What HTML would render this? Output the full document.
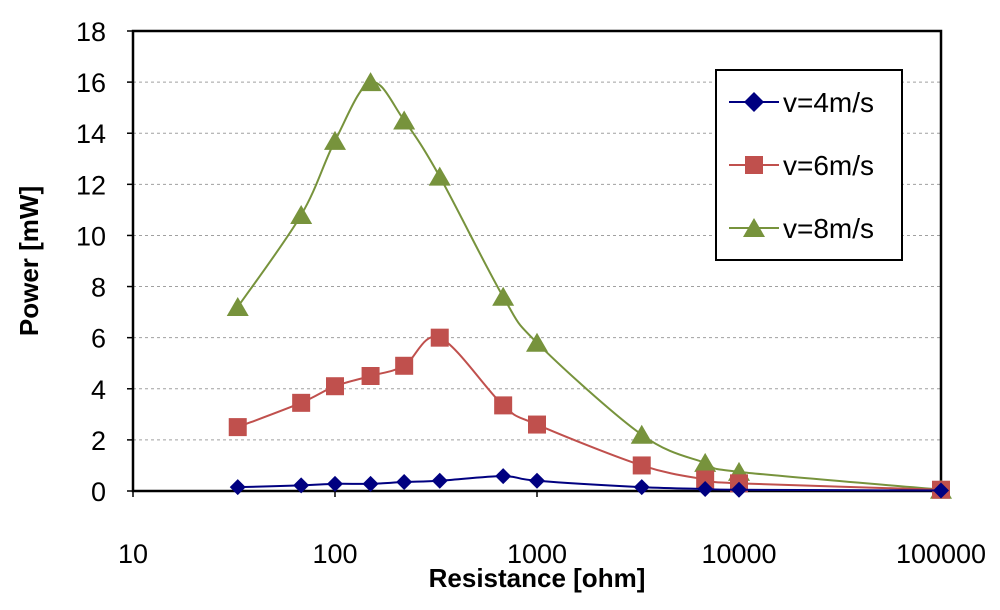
<!DOCTYPE html>
<html><head><meta charset="utf-8"><style>
body{margin:0;background:#fff}
svg text{font-family:"Liberation Sans",sans-serif}
</style></head><body>
<svg width="1000" height="605" xmlns="http://www.w3.org/2000/svg">
<g id="grid"></g>
<g id="axes"></g>
<g id="series"></g>
<text x="537" y="587" text-anchor="middle" font-size="26" font-weight="bold">Resistance [ohm]</text>
<text transform="translate(38,261) rotate(-90)" text-anchor="middle" font-size="26" font-weight="bold">Power [mW]</text>
<g>
<rect x="716" y="70" width="186" height="190" fill="#fff" stroke="#000" stroke-width="2"/>
<g>
<line x1="729" y1="102" x2="779" y2="102" stroke="#000080" stroke-width="2"/>
<polygon points="754,92 764,102 754,112 744,102" fill="#000080"/>
<text x="783" y="112" font-size="28">v=4m/s</text></g>
<g>
<line x1="729" y1="165" x2="779" y2="165" stroke="#c0504d" stroke-width="2"/>
<rect x="745" y="156" width="18" height="18" fill="#c0504d"/>
<text x="783" y="175" font-size="28">v=6m/s</text></g>
<g>
<line x1="729" y1="228" x2="779" y2="228" stroke="#77933c" stroke-width="2"/>
<polygon points="754,218 765,237 743,237" fill="#77933c"/>
<text x="783" y="238" font-size="28">v=8m/s</text></g>
</g>
</svg>
<script>
const resistance=[33,68,100,150,220,330,680,1000,3300,6800,10000,100000];
const v4=[0.15,0.22,0.28,0.28,0.35,0.4,0.58,0.4,0.15,0.08,0.05,0.02];
const v6=[2.5,3.45,4.1,4.5,4.9,6.0,3.35,2.6,1.0,0.45,0.3,0.05];
const v8=[7.2,10.8,13.7,16.0,14.5,12.3,7.6,5.8,2.2,1.1,0.75,0.05];
const yTicks=[0,2,4,6,8,10,12,14,16,18];
const xTicks=[10,100,1000,10000,100000];
const L=133,R=941,T=31,B=491;
const xs=v=>L+(Math.log10(v)-1)/4*(R-L);
const ys=v=>B-v/18*(B-T);
const NS="http://www.w3.org/2000/svg";
function mk(p,t,a){const e=document.createElementNS(NS,t);for(const k in a)e.setAttribute(k,a[k]);p.appendChild(e);return e;}
const grid=document.getElementById('grid'),axes=document.getElementById('axes'),ser=document.getElementById('series');
yTicks.forEach(t=>{
 if(t>0&&t<18){const g=mk(grid,'line',{x1:L,x2:R,y1:ys(t),y2:ys(t),stroke:'#a0a0a0','stroke-dasharray':'3,3'});
 
 }
 const tx=mk(axes,'text',{x:L-27,y:ys(t)+10,'text-anchor':'end','font-size':'27'});tx.textContent=t;
 
 
 mk(axes,'line',{x1:L-6,x2:L,y1:ys(t),y2:ys(t),stroke:'#000','stroke-width':1.5});
});
xTicks.forEach(t=>{
 const tx=mk(axes,'text',{x:xs(t),y:B+72,'text-anchor':'middle','font-size':'27'});tx.textContent=t;
 
 
 mk(axes,'line',{x1:xs(t),x2:xs(t),y1:B,y2:B+6,stroke:'#000','stroke-width':1.5});
});
const fr=mk(axes,'rect',{x:L,y:T,width:R-L,height:B-T,fill:'none',stroke:'#000','stroke-width':2.5});


function path(pts){let d=`M${pts[0][0]},${pts[0][1]}`;
 for(let i=0;i<pts.length-1;i++){const p0=pts[i-1]||pts[i],p1=pts[i],p2=pts[i+1],p3=pts[i+2]||p2;
  const c1=[p1[0]+(p2[0]-p0[0])/6,p1[1]+(p2[1]-p0[1])/6],c2=[p2[0]-(p3[0]-p1[0])/6,p2[1]-(p3[1]-p1[1])/6];
  d+=`C${c1[0]},${c1[1]} ${c2[0]},${c2[1]} ${p2[0]},${p2[1]}`;}return d;}
function draw(vals,col,shape,name){
 const pts=resistance.map((r,i)=>[xs(r),ys(vals[i])]);
 const g=mk(ser,'g',{});
 
 
 mk(g,'path',{d:path(pts),fill:'none',stroke:col,'stroke-width':2});
 pts.forEach(([x,y])=>{let m;
  if(shape==='d')m=mk(g,'polygon',{points:`${x},${y-8} ${x+8},${y} ${x},${y+8} ${x-8},${y}`,fill:col});
  else if(shape==='s')m=mk(g,'rect',{x:x-9,y:y-9,width:18,height:18,fill:col});
  else m=mk(g,'polygon',{points:`${x},${y-10} ${x+11},${y+9} ${x-11},${y+9}`,fill:col});
  
  });
}
draw(v8,'#77933c','t','series-v8');
draw(v6,'#c0504d','s','series-v6');
draw(v4,'#000080','d','series-v4');
</script>
</body></html>
